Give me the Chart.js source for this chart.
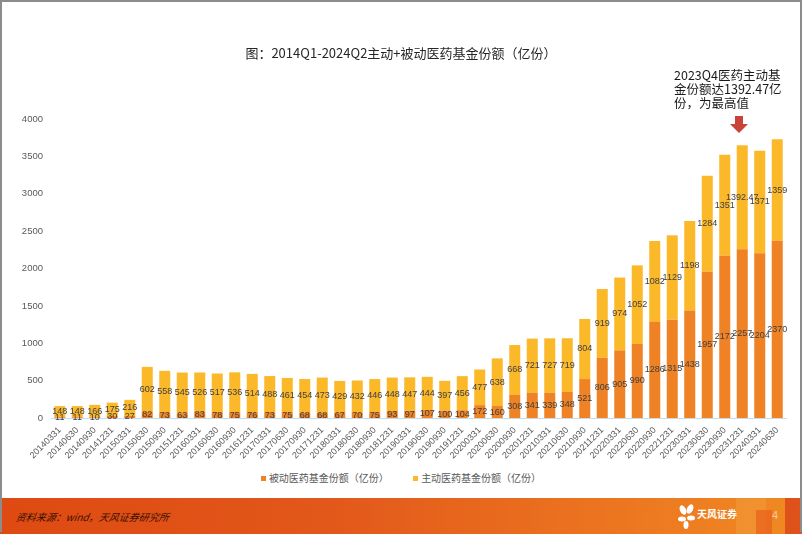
<!DOCTYPE html>
<html>
<head>
<meta charset="utf-8">
<script src="https://cdn.jsdelivr.net/npm/chart.js@4.4.1/dist/chart.umd.min.js"></script>
<style>
  html, body { margin: 0; padding: 0; background: #fff; }
  #slide { position: relative; width: 802px; height: 534px; overflow: hidden; background: #fff; font-family: "Liberation Sans", "Noto Sans CJK SC", sans-serif; }
  #frame { position: absolute; left: 0; top: 0; width: 798px; height: 530px; border: 2px solid #8c8c8c; border-bottom: none; pointer-events: none; z-index: 5; }
  #chartBox { position: absolute; left: 0; top: 0; width: 802px; height: 470px; }
  #title { position: absolute; left: 0; width: 802px; top: 43px; text-align: center; font-family: "Noto Sans CJK SC", sans-serif; font-size: 13px; color: #262626; }
  #note { position: absolute; left: 674px; top: 68px; width: 120px; font-family: "Noto Sans CJK SC", "Liberation Sans", sans-serif; font-size: 12.5px; line-height: 14px; color: #1a1a1a; }
  #arrow { position: absolute; left: 729px; top: 116px; }
  #legend { position: absolute; top: 470px; left: 0; width: 802px; text-align: center; font-family: "Noto Sans CJK SC", sans-serif; font-size: 10px; color: #595959; }
  #legend span.item { display: inline-block; margin: 0 11px; }
  #legend i { display: inline-block; width: 5px; height: 5px; margin-right: 3px; vertical-align: middle; position: relative; top: -1px; }
  #footer { position: absolute; left: 0; top: 498px; width: 802px; height: 36px; background: linear-gradient(90deg, #de4a12 0%, #e2571a 40%, #ec7420 75%, #f08a22 100%); }
  #src { position: absolute; left: 16px; top: 11px; font-family: "Noto Sans CJK SC", sans-serif; font-size: 10px; font-style: italic; color: #3a1000; transform: skewX(-10deg); }
  #pg { position: absolute; left: 772px; top: 11px; font-size: 11px; color: #f6c9a2; }
  .sq { position: absolute; }
  #logoTxt { position: absolute; left: 697px; top: 8px; font-family: "Noto Sans CJK SC", sans-serif; font-size: 10px; color: #fff; font-weight: bold; }
</style>
</head>
<body>
<div id="slide">
  <div id="chartBox"><canvas id="c" width="802" height="470"></canvas></div>
  <div id="title">图：2014Q1-2024Q2主动+被动医药基金份额（亿份）</div>
  <div id="note">2023Q4医药主动基<br>金份额达1392.47亿<br>份，为最高值</div>
  <svg id="arrow" width="20" height="18" viewBox="0 0 20 18">
    <polygon points="6,0 14,0 14,8 19,8 10,17 1,8 6,8" fill="#c9433a"/>
  </svg>
  <div id="legend">
    <span class="item"><i style="background:#ef8225"></i>被动医药基金份额（亿份）</span>
    <span class="item"><i style="background:#fbb829"></i>主动医药基金份额（亿份）</span>
  </div>
  <div id="footer">
    <div class="sq" style="left:736px;top:0;width:30px;height:36px;background:#f29a3a;opacity:0.55"></div>
    <div class="sq" style="left:756px;top:12px;width:16px;height:24px;background:#e8601c;opacity:0.7"></div>
    <div class="sq" style="left:785px;top:0;width:17px;height:36px;background:#d9441a;opacity:0.8"></div>
    <svg style="position:absolute;left:678px;top:6px" width="18" height="26" viewBox="0 0 18 26">
      <ellipse cx="5" cy="6" rx="3" ry="5" fill="#fff" transform="rotate(-25 5 6)"/>
      <ellipse cx="12" cy="5" rx="3" ry="5" fill="#fff" transform="rotate(25 12 5)"/>
      <ellipse cx="4" cy="15" rx="4" ry="2.5" fill="#fff"/>
      <ellipse cx="13" cy="14" rx="4" ry="2.5" fill="#fff"/>
      <ellipse cx="8" cy="21" rx="2.5" ry="4" fill="#fff"/>
    </svg>
    <div id="logoTxt">天风证券</div>
    <div id="src">资料来源：wind，天风证券研究所</div>
    <div id="pg">4</div>
  </div>
  <div id="frame"></div>
</div>
<script>
const categories = [
  "20140331","20140630","20140930","20141231",
  "20150331","20150630","20150930","20151231",
  "20160331","20160630","20160930","20161231",
  "20170331","20170630","20170930","20171231",
  "20180331","20180630","20180930","20181231",
  "20190331","20190630","20190930","20191231",
  "20200331","20200630","20200930","20201231",
  "20210331","20210630","20210930","20211231",
  "20220331","20220630","20220930","20221231",
  "20230331","20230630","20230930","20231231",
  "20240331","20240630"
];
const passiveShares = [
  11, 11, 10, 30,
  27, 82, 73, 63,
  83, 78, 75, 76,
  73, 75, 68, 68,
  67, 70, 75, 93,
  97, 107, 100, 104,
  172, 160, 308, 341,
  339, 348, 521, 806,
  905, 990, 1286, 1315,
  1438, 1957, 2172, 2257,
  2204, 2370
];
const activeShares = [
  148, 148, 166, 175,
  216, 602, 558, 545,
  526, 517, 536, 514,
  488, 461, 454, 473,
  429, 432, 446, 448,
  447, 444, 397, 456,
  477, 638, 668, 721,
  727, 719, 804, 919,
  974, 1052, 1082, 1129,
  1198, 1284, 1351, 1392.47,
  1371, 1359
];
const yTicks = [0, 500, 1000, 1500, 2000, 2500, 3000, 3500, 4000];
const seriesNames = ["被动医药基金份额（亿份）", "主动医药基金份额（亿份）"];

const segLabels = {
  id: "segLabels",
  afterDatasetsDraw(chart) {
    const ctx = chart.ctx;
    ctx.save();
    ctx.font = "9px 'Liberation Sans', Arial, sans-serif";
    ctx.fillStyle = "#404040";
    ctx.textAlign = "center";
    ctx.textBaseline = "middle";
    chart.data.datasets.forEach((ds, di) => {
      const meta = chart.getDatasetMeta(di);
      meta.data.forEach((bar, i) => {
        const v = ds.data[i];
        const y = (bar.y + bar.base) / 2;
        ctx.fillText(String(v), bar.x, y);
      });
    });
    ctx.restore();
  }
};

new Chart(document.getElementById("c"), {
  type: "bar",
  data: {
    labels: categories,
    datasets: [
      { label: seriesNames[0], data: passiveShares, backgroundColor: "#ef8225", barPercentage: 0.63, categoryPercentage: 1.0 },
      { label: seriesNames[1], data: activeShares, backgroundColor: "#fbb829", barPercentage: 0.63, categoryPercentage: 1.0 }
    ]
  },
  options: {
    responsive: false,
    animation: false,
    layout: { padding: { top: 119, right: 16, left: 0, bottom: 0 } },
    plugins: { legend: { display: false }, tooltip: { enabled: false }, title: { display: false } },
    scales: {
      x: {
        stacked: true,
        grid: { display: false, drawTicks: false },
        border: { display: true, color: "#c9dcef", width: 1 },
        ticks: {
          autoSkip: false, maxRotation: 45, minRotation: 45, padding: 7,
          color: "#595959", font: { family: "'Liberation Sans', Arial, sans-serif", size: 9 }
        },
        afterFit(s) { s.height = 52; }
      },
      y: {
        stacked: true,
        min: 0, max: 4000,
        afterBuildTicks(s) { s.ticks = yTicks.map(v => ({ value: v })); },
        grid: { display: false, drawTicks: false },
        border: { display: false },
        ticks: {
          padding: 8, color: "#595959",
          font: { family: "'Liberation Sans', Arial, sans-serif", size: 9.5 },
          callback: (v) => String(v)
        },
        afterFit(s) { s.width = 51; }
      }
    }
  },
  plugins: [segLabels]
});
</script>
</body>
</html>
